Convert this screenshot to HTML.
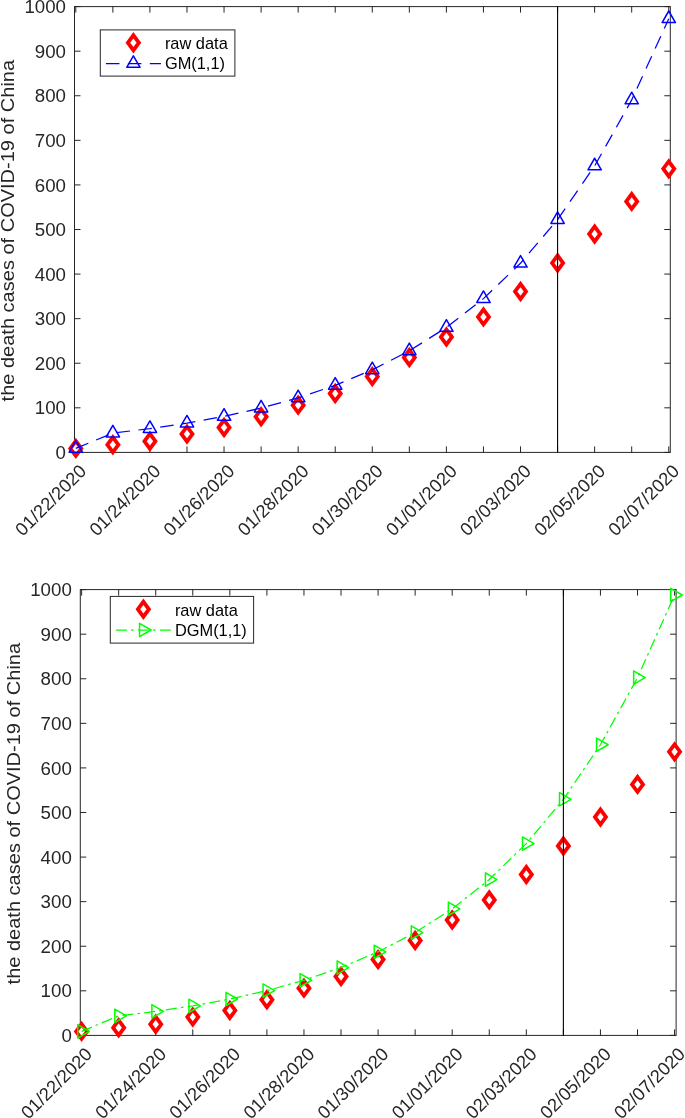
<!DOCTYPE html>
<html><head><meta charset="utf-8"><style>
html,body{margin:0;padding:0;background:#fff;width:685px;height:1118px;overflow:hidden}
svg{display:block;will-change:transform}
text{font-family:"Liberation Sans",sans-serif;fill:#262626}
</style></head><body>
<svg width="685" height="1118" viewBox="0 0 685 1118">
<rect width="685" height="1118" fill="#fff"/>
<rect x="74.5" y="6.6" width="595.8" height="445.8" fill="none" stroke="#262626" stroke-width="1"/>
<path d="M75.8 452.4v-6M75.8 6.6v6M112.86 452.4v-6M112.86 6.6v6M149.92 452.4v-6M149.92 6.6v6M186.98 452.4v-6M186.98 6.6v6M224.04 452.4v-6M224.04 6.6v6M261.1 452.4v-6M261.1 6.6v6M298.16 452.4v-6M298.16 6.6v6M335.22 452.4v-6M335.22 6.6v6M372.28 452.4v-6M372.28 6.6v6M409.34 452.4v-6M409.34 6.6v6M446.4 452.4v-6M446.4 6.6v6M483.46 452.4v-6M483.46 6.6v6M520.52 452.4v-6M520.52 6.6v6M557.58 452.4v-6M557.58 6.6v6M594.64 452.4v-6M594.64 6.6v6M631.7 452.4v-6M631.7 6.6v6M668.76 452.4v-6M668.76 6.6v6M74.5 452.4h6M670.3 452.4h-6M74.5 407.82h6M670.3 407.82h-6M74.5 363.24h6M670.3 363.24h-6M74.5 318.66h6M670.3 318.66h-6M74.5 274.08h6M670.3 274.08h-6M74.5 229.5h6M670.3 229.5h-6M74.5 184.92h6M670.3 184.92h-6M74.5 140.34h6M670.3 140.34h-6M74.5 95.76h6M670.3 95.76h-6M74.5 51.18h6M670.3 51.18h-6M74.5 6.6h6M670.3 6.6h-6" stroke="#262626" stroke-width="1" fill="none"/>
<text x="66" y="459" text-anchor="end" font-size="18.7">0</text>
<text x="66" y="414.42" text-anchor="end" font-size="18.7">100</text>
<text x="66" y="369.84" text-anchor="end" font-size="18.7">200</text>
<text x="66" y="325.26" text-anchor="end" font-size="18.7">300</text>
<text x="66" y="280.68" text-anchor="end" font-size="18.7">400</text>
<text x="66" y="236.1" text-anchor="end" font-size="18.7">500</text>
<text x="66" y="191.52" text-anchor="end" font-size="18.7">600</text>
<text x="66" y="146.94" text-anchor="end" font-size="18.7">700</text>
<text x="66" y="102.36" text-anchor="end" font-size="18.7">800</text>
<text x="66" y="57.78" text-anchor="end" font-size="18.7">900</text>
<text x="66" y="13.2" text-anchor="end" font-size="18.7">1000</text>
<text transform="translate(87.5 472.3) rotate(-45)" text-anchor="end" font-size="18.3">01/22/2020</text>
<text transform="translate(161.62 472.3) rotate(-45)" text-anchor="end" font-size="18.3">01/24/2020</text>
<text transform="translate(235.74 472.3) rotate(-45)" text-anchor="end" font-size="18.3">01/26/2020</text>
<text transform="translate(309.86 472.3) rotate(-45)" text-anchor="end" font-size="18.3">01/28/2020</text>
<text transform="translate(383.98 472.3) rotate(-45)" text-anchor="end" font-size="18.3">01/30/2020</text>
<text transform="translate(458.1 472.3) rotate(-45)" text-anchor="end" font-size="18.3">01/01/2020</text>
<text transform="translate(532.22 472.3) rotate(-45)" text-anchor="end" font-size="18.3">02/03/2020</text>
<text transform="translate(606.34 472.3) rotate(-45)" text-anchor="end" font-size="18.3">02/05/2020</text>
<text transform="translate(680.46 472.3) rotate(-45)" text-anchor="end" font-size="18.3">02/07/2020</text>
<text transform="translate(14.2 230.65) rotate(-90)" text-anchor="middle" font-size="19.1" textLength="341.5" lengthAdjust="spacingAndGlyphs">the death cases of COVID-19 of China</text>
<path d="M75.8 437.69L83.65 448.39L75.8 459.09L67.95 448.39Z" fill="#f00"/><path d="M75.8 444.14L72.6 448.39L75.8 452.64L79 448.39Z" fill="#fff"/>
<path d="M112.86 434.12L120.71 444.82L112.86 455.52L105.01 444.82Z" fill="#f00"/><path d="M112.86 440.57L109.66 444.82L112.86 449.07L116.06 444.82Z" fill="#fff"/>
<path d="M149.92 430.56L157.77 441.25L149.92 451.95L142.07 441.25Z" fill="#f00"/><path d="M149.92 437L146.72 441.25L149.92 445.5L153.12 441.25Z" fill="#fff"/>
<path d="M186.98 423.42L194.83 434.12L186.98 444.82L179.13 434.12Z" fill="#f00"/><path d="M186.98 429.87L183.78 434.12L186.98 438.37L190.18 434.12Z" fill="#fff"/>
<path d="M224.04 416.74L231.89 427.44L224.04 438.14L216.19 427.44Z" fill="#f00"/><path d="M224.04 423.19L220.84 427.44L224.04 431.69L227.24 427.44Z" fill="#fff"/>
<path d="M261.1 406.04L268.95 416.74L261.1 427.44L253.25 416.74Z" fill="#f00"/><path d="M261.1 412.49L257.9 416.74L261.1 420.99L264.3 416.74Z" fill="#fff"/>
<path d="M298.16 394.45L306.01 405.15L298.16 415.85L290.31 405.15Z" fill="#f00"/><path d="M298.16 400.9L294.96 405.15L298.16 409.4L301.36 405.15Z" fill="#fff"/>
<path d="M335.22 382.85L343.07 393.55L335.22 404.25L327.37 393.55Z" fill="#f00"/><path d="M335.22 389.3L332.02 393.55L335.22 397.8L338.42 393.55Z" fill="#fff"/>
<path d="M372.28 365.91L380.13 376.61L372.28 387.31L364.43 376.61Z" fill="#f00"/><path d="M372.28 372.36L369.08 376.61L372.28 380.86L375.48 376.61Z" fill="#fff"/>
<path d="M409.34 346.74L417.19 357.44L409.34 368.14L401.49 357.44Z" fill="#f00"/><path d="M409.34 353.19L406.14 357.44L409.34 361.69L412.54 357.44Z" fill="#fff"/>
<path d="M446.4 326.24L454.25 336.94L446.4 347.64L438.55 336.94Z" fill="#f00"/><path d="M446.4 332.69L443.2 336.94L446.4 341.19L449.6 336.94Z" fill="#fff"/>
<path d="M483.46 306.18L491.31 316.88L483.46 327.58L475.61 316.88Z" fill="#f00"/><path d="M483.46 312.63L480.26 316.88L483.46 321.13L486.66 316.88Z" fill="#fff"/>
<path d="M520.52 280.77L528.37 291.47L520.52 302.17L512.67 291.47Z" fill="#f00"/><path d="M520.52 287.22L517.32 291.47L520.52 295.72L523.72 291.47Z" fill="#fff"/>
<path d="M557.58 252.24L565.43 262.94L557.58 273.63L549.73 262.94Z" fill="#f00"/><path d="M557.58 258.69L554.38 262.94L557.58 267.19L560.78 262.94Z" fill="#fff"/>
<path d="M594.64 223.26L602.49 233.96L594.64 244.66L586.79 233.96Z" fill="#f00"/><path d="M594.64 229.71L591.44 233.96L594.64 238.21L597.84 233.96Z" fill="#fff"/>
<path d="M631.7 190.71L639.55 201.41L631.7 212.11L623.85 201.41Z" fill="#f00"/><path d="M631.7 197.16L628.5 201.41L631.7 205.66L634.9 201.41Z" fill="#fff"/>
<path d="M668.76 158.17L676.61 168.87L668.76 179.57L660.91 168.87Z" fill="#f00"/><path d="M668.76 164.62L665.56 168.87L668.76 173.12L671.96 168.87Z" fill="#fff"/>
<polyline points="75.8,448.39 112.86,433.07 149.92,428.62 186.98,423.14 224.04,416.4 261.1,408.1 298.16,397.89 335.22,385.33 372.28,369.87 409.34,350.85 446.4,327.44 483.46,298.64 520.52,263.21 557.58,219.6 594.64,165.95 631.7,99.93 668.76,18.7" fill="none" stroke="#00f" stroke-width="1.25" stroke-dasharray="13.54 8.42"/>
<path d="M75.8 440.69L82.47 452.24L69.13 452.24Z" fill="none" stroke="#00f" stroke-width="1.5" stroke-linejoin="round"/>
<path d="M112.86 425.37L119.53 436.92L106.19 436.92Z" fill="none" stroke="#00f" stroke-width="1.5" stroke-linejoin="round"/>
<path d="M149.92 420.92L156.59 432.47L143.25 432.47Z" fill="none" stroke="#00f" stroke-width="1.5" stroke-linejoin="round"/>
<path d="M186.98 415.44L193.65 426.99L180.31 426.99Z" fill="none" stroke="#00f" stroke-width="1.5" stroke-linejoin="round"/>
<path d="M224.04 408.7L230.71 420.25L217.37 420.25Z" fill="none" stroke="#00f" stroke-width="1.5" stroke-linejoin="round"/>
<path d="M261.1 400.4L267.77 411.95L254.43 411.95Z" fill="none" stroke="#00f" stroke-width="1.5" stroke-linejoin="round"/>
<path d="M298.16 390.19L304.83 401.74L291.49 401.74Z" fill="none" stroke="#00f" stroke-width="1.5" stroke-linejoin="round"/>
<path d="M335.22 377.63L341.89 389.18L328.55 389.18Z" fill="none" stroke="#00f" stroke-width="1.5" stroke-linejoin="round"/>
<path d="M372.28 362.17L378.95 373.72L365.61 373.72Z" fill="none" stroke="#00f" stroke-width="1.5" stroke-linejoin="round"/>
<path d="M409.34 343.15L416.01 354.7L402.67 354.7Z" fill="none" stroke="#00f" stroke-width="1.5" stroke-linejoin="round"/>
<path d="M446.4 319.74L453.07 331.29L439.73 331.29Z" fill="none" stroke="#00f" stroke-width="1.5" stroke-linejoin="round"/>
<path d="M483.46 290.94L490.13 302.49L476.79 302.49Z" fill="none" stroke="#00f" stroke-width="1.5" stroke-linejoin="round"/>
<path d="M520.52 255.51L527.19 267.06L513.85 267.06Z" fill="none" stroke="#00f" stroke-width="1.5" stroke-linejoin="round"/>
<path d="M557.58 211.9L564.25 223.45L550.91 223.45Z" fill="none" stroke="#00f" stroke-width="1.5" stroke-linejoin="round"/>
<path d="M594.64 158.25L601.31 169.8L587.97 169.8Z" fill="none" stroke="#00f" stroke-width="1.5" stroke-linejoin="round"/>
<path d="M631.7 92.23L638.37 103.78L625.03 103.78Z" fill="none" stroke="#00f" stroke-width="1.5" stroke-linejoin="round"/>
<path d="M668.76 11L675.43 22.55L662.09 22.55Z" fill="none" stroke="#00f" stroke-width="1.5" stroke-linejoin="round"/>
<path d="M557.58 6.6V452.4" stroke="#000" stroke-width="1.1"/>
<rect x="100.3" y="29.9" width="134.6" height="46.2" fill="#fff" stroke="#262626" stroke-width="1"/>
<path d="M133.4 32L141.25 42.7L133.4 53.4L125.55 42.7Z" fill="#f00"/><path d="M133.4 38.45L130.2 42.7L133.4 46.95L136.6 42.7Z" fill="#fff"/>
<path d="M105.9 63.5h55.1" stroke="#00f" stroke-width="1.25" stroke-dasharray="13.54 8.42"/>
<path d="M133.4 55.8L140.07 67.35L126.73 67.35Z" fill="none" stroke="#00f" stroke-width="1.5" stroke-linejoin="round"/>
<text x="164.9" y="49.1" font-size="16.4" style="fill:#000">raw data</text>
<text x="164.9" y="69.3" font-size="16.4" style="fill:#000">GM(1,1)</text>
<rect x="80.3" y="589.6" width="595.8" height="445.8" fill="none" stroke="#262626" stroke-width="1"/>
<path d="M81.6 1035.4v-6M81.6 589.6v6M118.66 1035.4v-6M118.66 589.6v6M155.72 1035.4v-6M155.72 589.6v6M192.78 1035.4v-6M192.78 589.6v6M229.84 1035.4v-6M229.84 589.6v6M266.9 1035.4v-6M266.9 589.6v6M303.96 1035.4v-6M303.96 589.6v6M341.02 1035.4v-6M341.02 589.6v6M378.08 1035.4v-6M378.08 589.6v6M415.14 1035.4v-6M415.14 589.6v6M452.2 1035.4v-6M452.2 589.6v6M489.26 1035.4v-6M489.26 589.6v6M526.32 1035.4v-6M526.32 589.6v6M563.38 1035.4v-6M563.38 589.6v6M600.44 1035.4v-6M600.44 589.6v6M637.5 1035.4v-6M637.5 589.6v6M674.56 1035.4v-6M674.56 589.6v6M80.3 1035.4h6M676.1 1035.4h-6M80.3 990.82h6M676.1 990.82h-6M80.3 946.24h6M676.1 946.24h-6M80.3 901.66h6M676.1 901.66h-6M80.3 857.08h6M676.1 857.08h-6M80.3 812.5h6M676.1 812.5h-6M80.3 767.92h6M676.1 767.92h-6M80.3 723.34h6M676.1 723.34h-6M80.3 678.76h6M676.1 678.76h-6M80.3 634.18h6M676.1 634.18h-6M80.3 589.6h6M676.1 589.6h-6" stroke="#262626" stroke-width="1" fill="none"/>
<text x="71.8" y="1042" text-anchor="end" font-size="18.7">0</text>
<text x="71.8" y="997.42" text-anchor="end" font-size="18.7">100</text>
<text x="71.8" y="952.84" text-anchor="end" font-size="18.7">200</text>
<text x="71.8" y="908.26" text-anchor="end" font-size="18.7">300</text>
<text x="71.8" y="863.68" text-anchor="end" font-size="18.7">400</text>
<text x="71.8" y="819.1" text-anchor="end" font-size="18.7">500</text>
<text x="71.8" y="774.52" text-anchor="end" font-size="18.7">600</text>
<text x="71.8" y="729.94" text-anchor="end" font-size="18.7">700</text>
<text x="71.8" y="685.36" text-anchor="end" font-size="18.7">800</text>
<text x="71.8" y="640.78" text-anchor="end" font-size="18.7">900</text>
<text x="71.8" y="596.2" text-anchor="end" font-size="18.7">1000</text>
<text transform="translate(93.3 1055.3) rotate(-45)" text-anchor="end" font-size="18.3">01/22/2020</text>
<text transform="translate(167.42 1055.3) rotate(-45)" text-anchor="end" font-size="18.3">01/24/2020</text>
<text transform="translate(241.54 1055.3) rotate(-45)" text-anchor="end" font-size="18.3">01/26/2020</text>
<text transform="translate(315.66 1055.3) rotate(-45)" text-anchor="end" font-size="18.3">01/28/2020</text>
<text transform="translate(389.78 1055.3) rotate(-45)" text-anchor="end" font-size="18.3">01/30/2020</text>
<text transform="translate(463.9 1055.3) rotate(-45)" text-anchor="end" font-size="18.3">01/01/2020</text>
<text transform="translate(538.02 1055.3) rotate(-45)" text-anchor="end" font-size="18.3">02/03/2020</text>
<text transform="translate(612.14 1055.3) rotate(-45)" text-anchor="end" font-size="18.3">02/05/2020</text>
<text transform="translate(686.26 1055.3) rotate(-45)" text-anchor="end" font-size="18.3">02/07/2020</text>
<text transform="translate(20 813.65) rotate(-90)" text-anchor="middle" font-size="19.1" textLength="341.5" lengthAdjust="spacingAndGlyphs">the death cases of COVID-19 of China</text>
<path d="M81.6 1020.69L89.45 1031.39L81.6 1042.09L73.75 1031.39Z" fill="#f00"/><path d="M81.6 1027.14L78.4 1031.39L81.6 1035.64L84.8 1031.39Z" fill="#fff"/>
<path d="M118.66 1017.12L126.51 1027.82L118.66 1038.52L110.81 1027.82Z" fill="#f00"/><path d="M118.66 1023.57L115.46 1027.82L118.66 1032.07L121.86 1027.82Z" fill="#fff"/>
<path d="M155.72 1013.56L163.57 1024.26L155.72 1034.96L147.87 1024.26Z" fill="#f00"/><path d="M155.72 1020.01L152.52 1024.26L155.72 1028.51L158.92 1024.26Z" fill="#fff"/>
<path d="M192.78 1006.42L200.63 1017.12L192.78 1027.82L184.93 1017.12Z" fill="#f00"/><path d="M192.78 1012.87L189.58 1017.12L192.78 1021.37L195.98 1017.12Z" fill="#fff"/>
<path d="M229.84 999.74L237.69 1010.44L229.84 1021.14L221.99 1010.44Z" fill="#f00"/><path d="M229.84 1006.19L226.64 1010.44L229.84 1014.69L233.04 1010.44Z" fill="#fff"/>
<path d="M266.9 989.04L274.75 999.74L266.9 1010.44L259.05 999.74Z" fill="#f00"/><path d="M266.9 995.49L263.7 999.74L266.9 1003.99L270.1 999.74Z" fill="#fff"/>
<path d="M303.96 977.45L311.81 988.15L303.96 998.85L296.11 988.15Z" fill="#f00"/><path d="M303.96 983.9L300.76 988.15L303.96 992.4L307.16 988.15Z" fill="#fff"/>
<path d="M341.02 965.85L348.87 976.55L341.02 987.25L333.17 976.55Z" fill="#f00"/><path d="M341.02 972.3L337.82 976.55L341.02 980.8L344.22 976.55Z" fill="#fff"/>
<path d="M378.08 948.91L385.93 959.61L378.08 970.31L370.23 959.61Z" fill="#f00"/><path d="M378.08 955.36L374.88 959.61L378.08 963.86L381.28 959.61Z" fill="#fff"/>
<path d="M415.14 929.74L422.99 940.44L415.14 951.14L407.29 940.44Z" fill="#f00"/><path d="M415.14 936.19L411.94 940.44L415.14 944.69L418.34 940.44Z" fill="#fff"/>
<path d="M452.2 909.24L460.05 919.94L452.2 930.64L444.35 919.94Z" fill="#f00"/><path d="M452.2 915.69L449 919.94L452.2 924.19L455.4 919.94Z" fill="#fff"/>
<path d="M489.26 889.18L497.11 899.88L489.26 910.58L481.41 899.88Z" fill="#f00"/><path d="M489.26 895.63L486.06 899.88L489.26 904.13L492.46 899.88Z" fill="#fff"/>
<path d="M526.32 863.77L534.17 874.47L526.32 885.17L518.47 874.47Z" fill="#f00"/><path d="M526.32 870.22L523.12 874.47L526.32 878.72L529.52 874.47Z" fill="#fff"/>
<path d="M563.38 835.24L571.23 845.94L563.38 856.64L555.53 845.94Z" fill="#f00"/><path d="M563.38 841.69L560.18 845.94L563.38 850.19L566.58 845.94Z" fill="#fff"/>
<path d="M600.44 806.26L608.29 816.96L600.44 827.66L592.59 816.96Z" fill="#f00"/><path d="M600.44 812.71L597.24 816.96L600.44 821.21L603.64 816.96Z" fill="#fff"/>
<path d="M637.5 773.71L645.35 784.41L637.5 795.11L629.65 784.41Z" fill="#f00"/><path d="M637.5 780.16L634.3 784.41L637.5 788.66L640.7 784.41Z" fill="#fff"/>
<path d="M674.56 741.17L682.41 751.87L674.56 762.57L666.71 751.87Z" fill="#f00"/><path d="M674.56 747.62L671.36 751.87L674.56 756.12L677.76 751.87Z" fill="#fff"/>
<polyline points="81.6,1031.39 118.66,1015.89 155.72,1011.38 192.78,1005.84 229.84,999.01 266.9,990.61 303.96,980.26 341.02,967.53 378.08,951.85 415.14,932.56 452.2,908.81 489.26,879.57 526.32,843.58 563.38,799.29 600.44,744.76 637.5,677.64 674.56,595.02" fill="none" stroke="#0f0" stroke-width="1.25" stroke-dasharray="11.03 4.12 2.6 4.21"/>
<path d="M89.3 1031.39L77.75 1024.72L77.75 1038.06Z" fill="none" stroke="#0f0" stroke-width="1.5" stroke-linejoin="round"/>
<path d="M126.36 1015.89L114.81 1009.22L114.81 1022.56Z" fill="none" stroke="#0f0" stroke-width="1.5" stroke-linejoin="round"/>
<path d="M163.42 1011.38L151.87 1004.71L151.87 1018.05Z" fill="none" stroke="#0f0" stroke-width="1.5" stroke-linejoin="round"/>
<path d="M200.48 1005.84L188.93 999.17L188.93 1012.5Z" fill="none" stroke="#0f0" stroke-width="1.5" stroke-linejoin="round"/>
<path d="M237.54 999.01L225.99 992.34L225.99 1005.68Z" fill="none" stroke="#0f0" stroke-width="1.5" stroke-linejoin="round"/>
<path d="M274.6 990.61L263.05 983.94L263.05 997.27Z" fill="none" stroke="#0f0" stroke-width="1.5" stroke-linejoin="round"/>
<path d="M311.66 980.26L300.11 973.59L300.11 986.93Z" fill="none" stroke="#0f0" stroke-width="1.5" stroke-linejoin="round"/>
<path d="M348.72 967.53L337.17 960.86L337.17 974.19Z" fill="none" stroke="#0f0" stroke-width="1.5" stroke-linejoin="round"/>
<path d="M385.78 951.85L374.23 945.18L374.23 958.52Z" fill="none" stroke="#0f0" stroke-width="1.5" stroke-linejoin="round"/>
<path d="M422.84 932.56L411.29 925.89L411.29 939.23Z" fill="none" stroke="#0f0" stroke-width="1.5" stroke-linejoin="round"/>
<path d="M459.9 908.81L448.35 902.14L448.35 915.48Z" fill="none" stroke="#0f0" stroke-width="1.5" stroke-linejoin="round"/>
<path d="M496.96 879.57L485.41 872.9L485.41 886.24Z" fill="none" stroke="#0f0" stroke-width="1.5" stroke-linejoin="round"/>
<path d="M534.02 843.58L522.47 836.92L522.47 850.25Z" fill="none" stroke="#0f0" stroke-width="1.5" stroke-linejoin="round"/>
<path d="M571.08 799.29L559.53 792.62L559.53 805.96Z" fill="none" stroke="#0f0" stroke-width="1.5" stroke-linejoin="round"/>
<path d="M608.14 744.76L596.59 738.09L596.59 751.43Z" fill="none" stroke="#0f0" stroke-width="1.5" stroke-linejoin="round"/>
<path d="M645.2 677.64L633.65 670.97L633.65 684.31Z" fill="none" stroke="#0f0" stroke-width="1.5" stroke-linejoin="round"/>
<path d="M682.26 595.02L670.71 588.35L670.71 601.69Z" fill="none" stroke="#0f0" stroke-width="1.5" stroke-linejoin="round"/>
<path d="M563.38 589.6V1035.4" stroke="#000" stroke-width="1.1"/>
<rect x="110.3" y="596.4" width="143.3" height="46.7" fill="#fff" stroke="#262626" stroke-width="1"/>
<path d="M143.4 598.5L151.25 609.2L143.4 619.9L135.55 609.2Z" fill="#f00"/><path d="M143.4 604.95L140.2 609.2L143.4 613.45L146.6 609.2Z" fill="#fff"/>
<path d="M115.9 630h55.1" stroke="#0f0" stroke-width="1.25" stroke-dasharray="11.03 4.12 2.6 4.21"/>
<path d="M151.1 630L139.55 623.33L139.55 636.67Z" fill="none" stroke="#0f0" stroke-width="1.5" stroke-linejoin="round"/>
<text x="174.9" y="615.6" font-size="16.4" style="fill:#000">raw data</text>
<text x="174.9" y="635.8" font-size="16.4" style="fill:#000">DGM(1,1)</text>
</svg>
</body></html>
